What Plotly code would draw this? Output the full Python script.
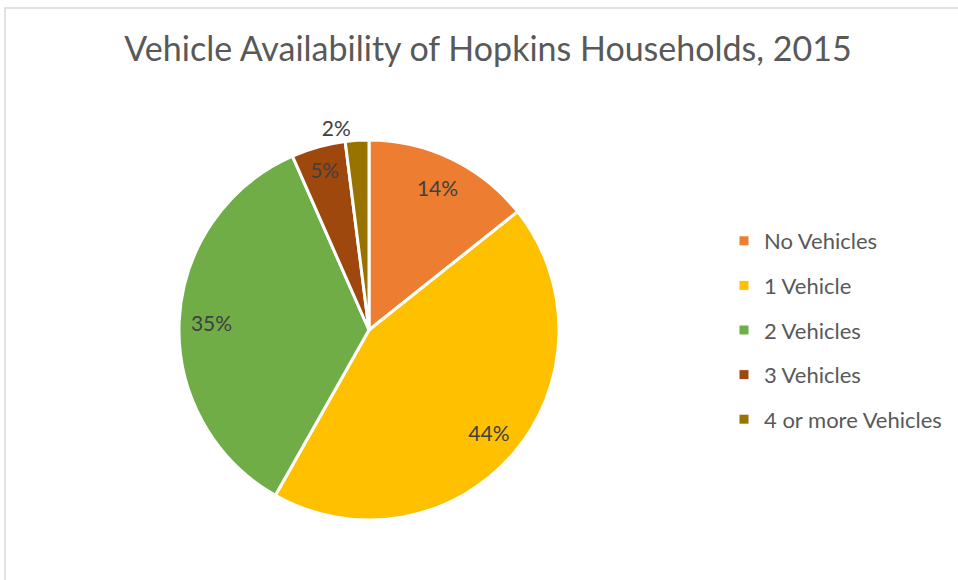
import plotly.graph_objects as go

categories = ["No Vehicles", "1 Vehicle", "2 Vehicles", "3 Vehicles", "4 or more Vehicles"]
shares = [14.3, 43.9, 35.2, 4.6, 2.0]
colors = ["#ED7D31", "#FFC000", "#70AD47", "#9E480E", "#997300"]

FONT = "Lato"
DOMAIN = dict(x=[179/958, 559/958], y=[1-520/580, 1-140/580])

fig = go.Figure()
# filled slices
fig.add_trace(go.Pie(
    labels=categories, values=shares, sort=False, direction="clockwise", rotation=0,
    marker=dict(colors=colors, line=dict(color="white", width=3)),
    textinfo="none", showlegend=False, hoverinfo="label+percent",
    domain=DOMAIN,
))
# transparent ring carrying the data labels (places them near the outer part of each slice)
fig.add_trace(go.Pie(
    labels=categories, values=shares, sort=False, direction="clockwise", rotation=0,
    hole=0.66,
    marker=dict(colors=["rgba(0,0,0,0)"] * len(categories), line=dict(width=0)),
    texttemplate="%{percent:.0%}",
    textposition=["inside", "inside", "inside", "inside", "outside"],
    insidetextorientation="horizontal",
    textfont=dict(family=FONT, size=21, color="#404040"),
    outsidetextfont=dict(family=FONT, size=21, color="#404040"),
    showlegend=False, hoverinfo="skip",
    domain=DOMAIN,
))
for name, col in zip(categories, colors):
    fig.add_trace(go.Scatter(
        x=[None], y=[None], mode="markers", name=name,
        marker=dict(symbol="square", size=9, color=col),
        legendgroup=name, showlegend=True,
    ))

fig.update_layout(
    width=958, height=580,
    margin=dict(l=0, r=0, t=0, b=0),
    paper_bgcolor="white", plot_bgcolor="white",
    title=dict(text="Vehicle Availability of Hopkins Households, 2015",
               x=488/958, xanchor="center", y=1-49/580, yanchor="middle",
               font=dict(family=FONT, size=34, color="#595959")),
    xaxis=dict(visible=False), yaxis=dict(visible=False),
    legend=dict(x=724/958, xanchor="left", y=1-220/580, yanchor="top",
                font=dict(family=FONT, size=22, color="#595959"),
                tracegroupgap=13, itemwidth=30, bgcolor="rgba(0,0,0,0)"),
    shapes=[dict(type="rect", xref="paper", yref="paper",
                 x0=5/958, x1=1.02, y0=-0.02, y1=1-8/580,
                 line=dict(color="#D9D9D9", width=1.5), fillcolor="rgba(0,0,0,0)", layer="below")],
)
fig.write_html("out.html", config={"displayModeBar": False},
               post_script="document.body.style.margin='0px';")
